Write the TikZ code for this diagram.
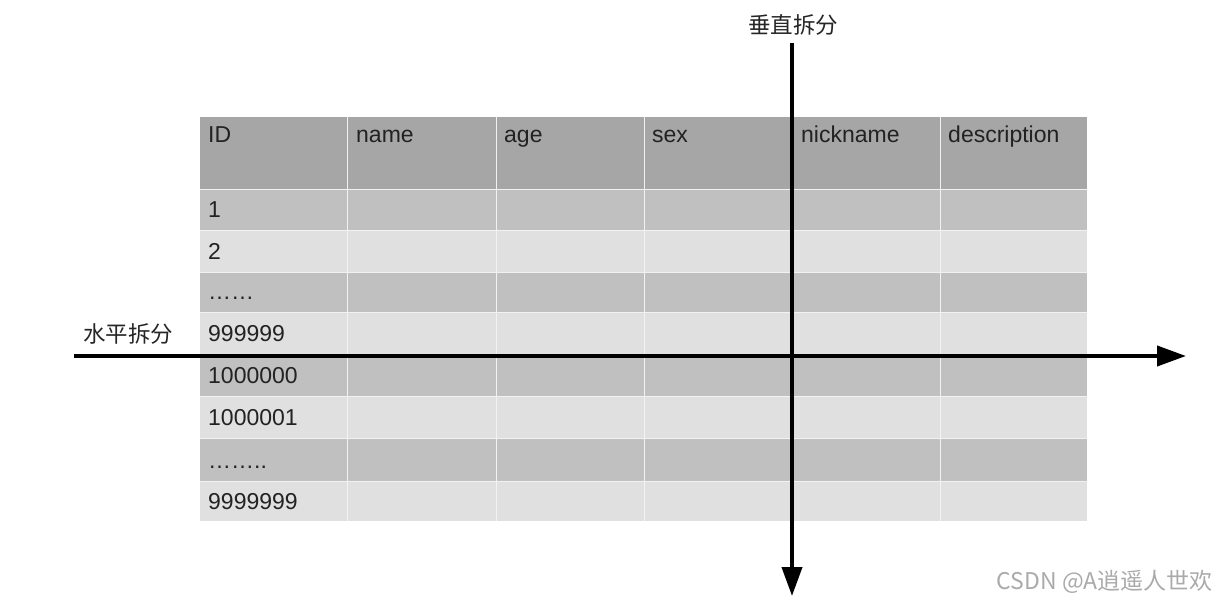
\documentclass[tikz,border=0pt]{standalone}
\usepackage{fontspec}
\setmainfont{Liberation Sans}
\newfontfamily\cjk{Noto Sans CJK SC}
\usetikzlibrary{arrows.meta}
\definecolor{hdr}{HTML}{A6A6A6}
\definecolor{dk}{HTML}{C0C0C0}
\definecolor{lt}{HTML}{E0E0E0}
\definecolor{txt}{HTML}{222222}
\definecolor{wm}{HTML}{AAAAAA}
\begin{document}
\begin{tikzpicture}[x=1pt,y=-1pt,
  celltext/.style={anchor=base west,inner sep=0pt,text=txt,font=\fontsize{23}{27}\selectfont},
  cutarrow/.style={line width=4pt,-{Triangle[length=29pt,width=20pt]}},
  cutlabel/.style={inner sep=0pt,text=black!85,font=\cjk\fontsize{22.5}{26}\selectfont},
  sep/.style={white!90!gray,line width=1pt}]
\useasboundingbox (0,0) rectangle (1218,601);
% table background
\fill[hdr] (200,117) rectangle (1087,190);
\fill[dk] (200,190) rectangle (1087,231);
\fill[lt] (200,231) rectangle (1087,273);
\fill[dk] (200,273) rectangle (1087,313);
\fill[lt] (200,313) rectangle (1087,355);
\fill[dk] (200,355) rectangle (1087,397);
\fill[lt] (200,397) rectangle (1087,438);
\fill[dk] (200,438) rectangle (1087,481);
\fill[lt] (200,481) rectangle (1087,521);
% separators
\foreach \cx in {347,496,644,793,940}
  \draw[sep] (\cx,117) -- (\cx,521);
\foreach \ry in {190,231,273,313,355,397,438,481}
  \draw[sep] (200,\ry) -- (1087,\ry);
% header
\node[celltext] (hID) at (208,143) {ID};
\node[celltext] (hname) at (356,143) {name};
\node[celltext] (hage) at (504,143) {age};
\node[celltext] (hsex) at (652,143) {sex};
\node[celltext] (hnick) at (801,143) {nickname};
\node[celltext] (hdesc) at (948,143) {description};
% id column
\node[celltext] (r1) at (208,218) {1};
\node[celltext] (r2) at (208,260) {2};
\node[celltext] (r3) at (208,300) {……};
\node[celltext] (r4) at (208,342) {999999};
\node[celltext] (r5) at (208,384) {1000000};
\node[celltext] (r6) at (208,425) {1000001};
\node[celltext] (r7) at (208,468) {……..};
\node[celltext] (r8) at (208,509) {9999999};
% cut lines
\coordinate (vtop) at (792,43);
\coordinate (vbot) at (792,596);
\coordinate (hleft) at (74,356);
\coordinate (hright) at (1186,356);
\draw[cutarrow] (hleft) -- (hright);
\draw[cutarrow] (vtop) -- (vbot);
\node[cutlabel] (vlab) at (793,25) {垂直拆分};
\node[cutlabel] (hlab) at (128,334) {水平拆分};
% watermark
\node[anchor=east,inner sep=0pt,text=wm,font=\cjk\fontsize{23}{26}\selectfont] (wmark) at (1213,582) {CSDN @A逍遥人世欢};
\end{tikzpicture}
\end{document}
